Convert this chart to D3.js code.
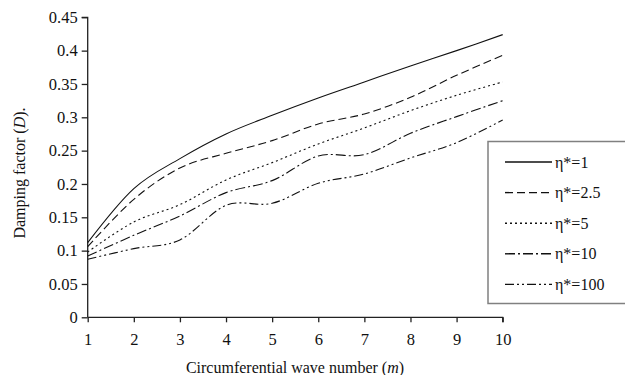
<!DOCTYPE html>
<html>
<head>
<meta charset="utf-8">
<script src="https://cdn.jsdelivr.net/npm/d3@7"></script>
<style>
  body { margin: 0; background: #fff; }
  svg { display: block; }
</style>
</head>
<body>
<svg id="chart" width="625" height="375"></svg>
<script>
var waveNumbers = [1, 2, 3, 4, 5, 6, 7, 8, 9, 10];
var eta1   = [0.112, 0.193, 0.238, 0.275, 0.303, 0.329, 0.353, 0.377, 0.400, 0.424];
var eta2_5 = [0.106, 0.177, 0.224, 0.246, 0.265, 0.290, 0.305, 0.330, 0.363, 0.393];
var eta5   = [0.098, 0.143, 0.169, 0.206, 0.232, 0.260, 0.284, 0.310, 0.333, 0.353];
var eta10  = [0.092, 0.123, 0.152, 0.187, 0.205, 0.242, 0.244, 0.276, 0.301, 0.325];
var eta100 = [0.087, 0.103, 0.116, 0.168, 0.171, 0.201, 0.215, 0.239, 0.262, 0.296];
var seriesNames = ['\u03b7*=1', '\u03b7*=2.5', '\u03b7*=5', '\u03b7*=10', '\u03b7*=100'];
var xTicks = [1, 2, 3, 4, 5, 6, 7, 8, 9, 10];
var yTicks = ['0', '0.05', '0.1', '0.15', '0.2', '0.25', '0.3', '0.35', '0.4', '0.45'];

var dashes = ['none', '8,4', '2,3', '10,3,2,3', '9,3,2,3,2,3'];
var fontFamily = '"Liberation Serif", "Times New Roman", serif';
var inkColor = '#222';

var svg = d3.select('#chart');

var x = d3.scaleLinear().domain([1, 10]).range([87.7, 502.7]);
var y = d3.scaleLinear().domain([0, 0.45]).range([317.3, 17.3]);

// axes
var yAxis = d3.axisLeft(y)
  .tickValues(yTicks.map(Number))
  .tickFormat(function (d, i) { return yTicks[i]; })
  .tickSize(6)
  .tickPadding(4);

var xAxis = d3.axisBottom(x)
  .tickValues(xTicks)
  .tickFormat(function (d) { return d; })
  .tickSize(5)
  .tickPadding(11);

var gy = svg.append('g')
  .attr('transform', 'translate(' + x(1) + ',0)')
  .call(yAxis);

var gx = svg.append('g')
  .attr('transform', 'translate(0,' + y(0) + ')')
  .call(xAxis);

[gx, gy].forEach(function (g) {
  g.select('.domain').attr('stroke', inkColor).attr('stroke-width', 1.3);
  g.selectAll('.tick line').attr('stroke', inkColor).attr('stroke-width', 1.3);
  g.selectAll('.tick text')
    .attr('fill', '#111')
    .attr('font-family', fontFamily)
    .attr('font-size', '16.5px');
});
// remove outer tick stubs so the axis ends clean
gx.select('.domain').attr('d', 'M' + x(1) + ',0H' + x(10) + 'V5');
gy.select('.domain').attr('d', 'M0,' + y(0) + 'V' + y(0.45) + 'H-6');

// series lines
var allSeries = [eta1, eta2_5, eta5, eta10, eta100];

var line = d3.line()
  .x(function (d, i) { return x(waveNumbers[i]); })
  .y(function (d) { return y(d); })
  .curve(d3.curveCatmullRom.alpha(0));

svg.append('g').selectAll('path')
  .data(allSeries)
  .enter()
  .append('path')
  .attr('d', line)
  .attr('fill', 'none')
  .attr('stroke', '#111')
  .attr('stroke-width', 1.1)
  .attr('stroke-dasharray', function (d, i) { return dashes[i]; });

// legend (box runs off the right edge like the original)
var legend = svg.append('g');

legend.append('rect')
  .attr('x', 488)
  .attr('y', 141.5)
  .attr('width', 150)
  .attr('height', 162)
  .attr('fill', '#fff')
  .attr('stroke', '#808080')
  .attr('stroke-width', 1.5);

var rows = legend.selectAll('g.row')
  .data(seriesNames)
  .enter()
  .append('g')
  .attr('class', 'row')
  .attr('transform', function (d, i) { return 'translate(0,' + (162 + i * 30.6) + ')'; });

rows.append('line')
  .attr('x1', 505)
  .attr('x2', 552)
  .attr('y1', 0)
  .attr('y2', 0)
  .attr('stroke', '#111')
  .attr('stroke-width', 1.4)
  .attr('stroke-dasharray', function (d, i) { return dashes[i]; });

rows.append('text')
  .attr('x', 555)
  .attr('y', 5.5)
  .attr('font-family', fontFamily)
  .attr('font-size', '16px')
  .attr('fill', '#111')
  .text(function (d) { return d; });

// axis titles
var xTitle = svg.append('text')
  .attr('x', 295)
  .attr('y', 373)
  .attr('text-anchor', 'middle')
  .attr('font-family', fontFamily)
  .attr('font-size', '16px')
  .attr('fill', '#111');
xTitle.append('tspan').text('Circumferential wave number (');
xTitle.append('tspan').attr('font-style', 'italic').text('m');
xTitle.append('tspan').text(')');

var yTitle = svg.append('text')
  .attr('transform', 'translate(25,173) rotate(-90)')
  .attr('text-anchor', 'middle')
  .attr('font-family', fontFamily)
  .attr('font-size', '16px')
  .attr('fill', '#111');
yTitle.append('tspan').text('Damping factor (');
yTitle.append('tspan').attr('font-style', 'italic').text('D');
yTitle.append('tspan').text(').');
</script>
</body>
</html>
